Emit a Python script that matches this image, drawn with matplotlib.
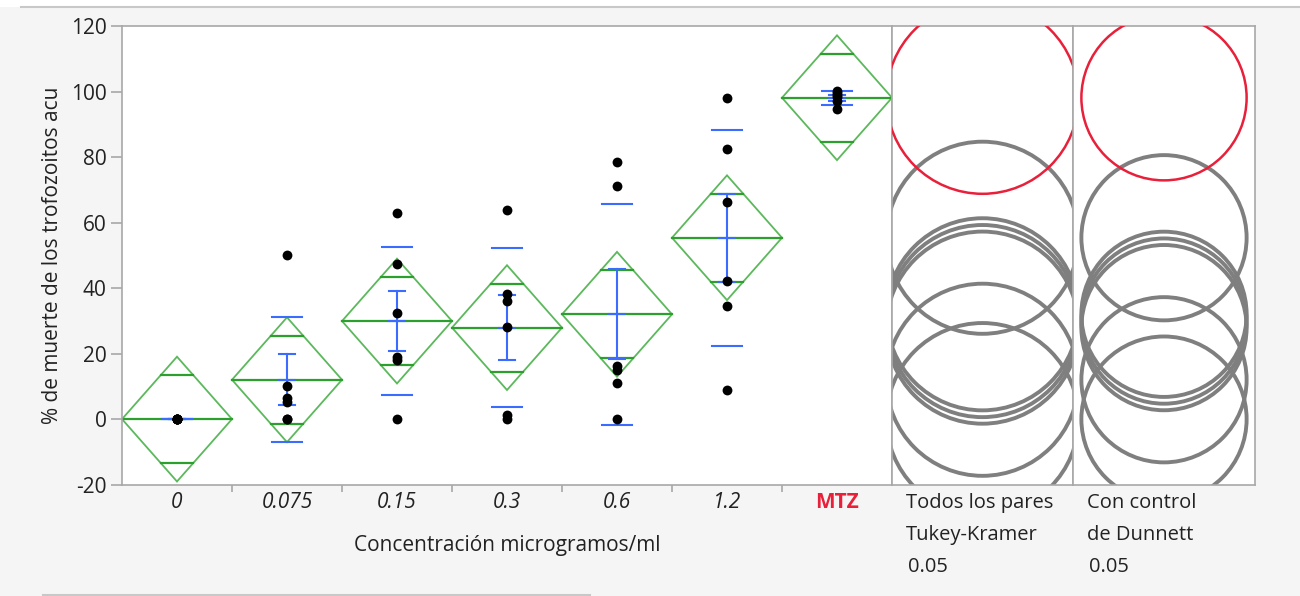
import numpy as np
import matplotlib
matplotlib.use("Agg")
import matplotlib.pyplot as plt
from matplotlib.patches import Circle, Polygon, Rectangle
from matplotlib.lines import Line2D

plt.rcParams['font.family'] = ['Open Sans', 'DejaVu Sans']
plt.rcParams['axes.unicode_minus'] = False

# data (6 obs per group)
categories = ['0', '0.075', '0.15', '0.3', '0.6', '1.2', 'MTZ']
g_0 = [0.2, 0.1, 0.0, 0.0, 0.1, 0.2]
g_0075 = [50.2, 10.3, 6.6, 5.4, 0.1, 0.0]
g_015 = [63.0, 47.5, 32.4, 18.9, 18.2, 0.0]
g_03 = [63.8, 38.3, 36.2, 28.3, 1.2, 0.2]
g_06 = [78.5, 71.3, 16.3, 15.0, 11.1, 0.2]
g_12 = [97.9, 82.4, 66.4, 42.1, 34.7, 9.0]
g_mtz = [100.3, 99.6, 99.0, 98.2, 97.0, 94.6]
groups = [g_0, g_0075, g_015, g_03, g_06, g_12, g_mtz]

t_crit = 2.030          # t(0.975, 35)
tukey_radius = 29.3     # comparison circle radii
dunnett_radius = 25.2

means = np.array([np.mean(g) for g in groups])
sds = np.array([np.std(g, ddof=1) for g in groups])
ns = np.array([len(g) for g in groups])
ses = sds / np.sqrt(ns)
sse = sum(((np.array(g) - np.mean(g)) ** 2).sum() for g in groups)
mse = sse / (ns.sum() - len(groups))
ci_half = t_crit * np.sqrt(mse / ns)
overlap = ci_half * np.sqrt(2) / 2

W, H = 1300, 596
fig = plt.figure(figsize=(W / 100, H / 100), dpi=100)
fig.patch.set_facecolor('#f5f5f5')
# white strip on top + thin frame lines
fig.add_artist(Rectangle((0, 1 - 7 / H), 1, 7 / H, transform=fig.transFigure,
                         facecolor='white', edgecolor='none'))
fig.add_artist(Line2D([21 / W, 1], [1 - 7 / H, 1 - 7 / H], transform=fig.transFigure,
                      color='#c8c8c8', lw=1.5))
fig.add_artist(Line2D([43 / W, 590 / W], [1 - 595 / H, 1 - 595 / H], transform=fig.transFigure,
                      color='#c8c8c8', lw=1.5))

top, bot = 26, 485
def axrect(x0, x1):
    return [x0 / W, 1 - bot / H, (x1 - x0) / W, (bot - top) / H]

ax = fig.add_axes(axrect(122, 892))
axT = fig.add_axes(axrect(892, 1073))
axD = fig.add_axes(axrect(1073, 1255))

green_edge = '#5cb85c'
green_mean = '#2ca02c'
blue = '#3c6cff'
spine_c = '#a8a8a8'
txt_c = '#222222'
fs = 15

x = np.arange(len(categories))
for i in range(len(categories)):
    m, c, o = means[i], ci_half[i], overlap[i]
    w = 0.5
    ax.add_patch(Polygon([[i - w, m], [i, m + c], [i + w, m], [i, m - c]], closed=True,
                         fill=False, edgecolor=green_edge, lw=1.3, zorder=2))
    ax.plot([i - w, i + w], [m, m], color=green_mean, lw=1.6, zorder=2)
    ow = w * (1 - o / c)
    for yy in (m + o, m - o):
        ax.plot([i - ow, i + ow], [yy, yy], color=green_mean, lw=1.6, zorder=2)
    # std dev lines
    for yy in (m + sds[i], m - sds[i]):
        ax.plot([i - 0.136, i + 0.136], [yy, yy], color=blue, lw=1.5, zorder=3)
    # mean error bars
    ax.plot([i, i], [m - ses[i], m + ses[i]], color=blue, lw=1.5, zorder=3)
    for yy in (m - ses[i], m, m + ses[i]):
        ax.plot([i - 0.07, i + 0.07], [yy, yy], color=blue, lw=1.5, zorder=3)
    ax.scatter(np.full(ns[i], i), groups[i], s=50, color='black', zorder=4, linewidths=0)

ax.set_xlim(-0.5, len(categories) - 0.5)
ax.set_ylim(-20, 120)
ax.set_yticks(np.arange(-20, 121, 20))
ax.set_xticks(x)
ax.set_xticklabels(categories)
ax.set_xticks(np.arange(0.5, len(categories) - 1, 1), minor=True)
ax.tick_params(axis='x', which='major', length=0, pad=5, labelsize=fs, labelcolor=txt_c)
ax.tick_params(axis='x', which='minor', length=5, color=spine_c, width=1.2)
ax.tick_params(axis='y', length=8, pad=3, color=spine_c, width=1.2, labelsize=fs, labelcolor=txt_c)
for lab in ax.get_xticklabels():
    if lab.get_text() == 'MTZ':
        lab.set_color('#e8203a')
        lab.set_fontweight('bold')
    else:
        lab.set_fontstyle('italic')
ax.set_xlabel('Concentración microgramos/ml', fontsize=fs, color=txt_c, labelpad=16)
ax.set_ylabel('% de muerte de los trofozoitos acu', fontsize=fs, color=txt_c, labelpad=6)

# comparison circles panels
for a, r, labels in ((axT, tukey_radius, ['Todos los pares', 'Tukey-Kramer', '0.05']),
                     (axD, dunnett_radius, ['Con control', 'de Dunnett', '0.05'])):
    bb = a.get_position()
    half = 70 * (bb.width * W) / (bb.height * H)
    a.set_xlim(-half, half)
    a.set_ylim(-20, 120)
    a.set_xticks([])
    a.set_yticks([])
    for i in range(len(categories) - 1):
        a.add_patch(Circle((0, means[i]), r, fill=False, edgecolor='#7f7f7f', lw=2.8, zorder=2))
    a.add_patch(Circle((0, means[-1]), r, fill=False, edgecolor='#e8203a', lw=1.8, zorder=3))
    x0 = bb.x0 + 14 / W
    for k, t in enumerate(labels):
        fig.text(x0 + (2 / W if k == 2 else 0), 1 - (503 + 32 * k) / H, t, fontsize=fs - 0.5,
                 color=txt_c, va='center', ha='left')

for a in (ax, axT, axD):
    a.set_facecolor('white')
    for s in a.spines.values():
        s.set_color(spine_c)
        s.set_linewidth(1.2)

fig.savefig('out.png', dpi=100, facecolor=fig.get_facecolor())
